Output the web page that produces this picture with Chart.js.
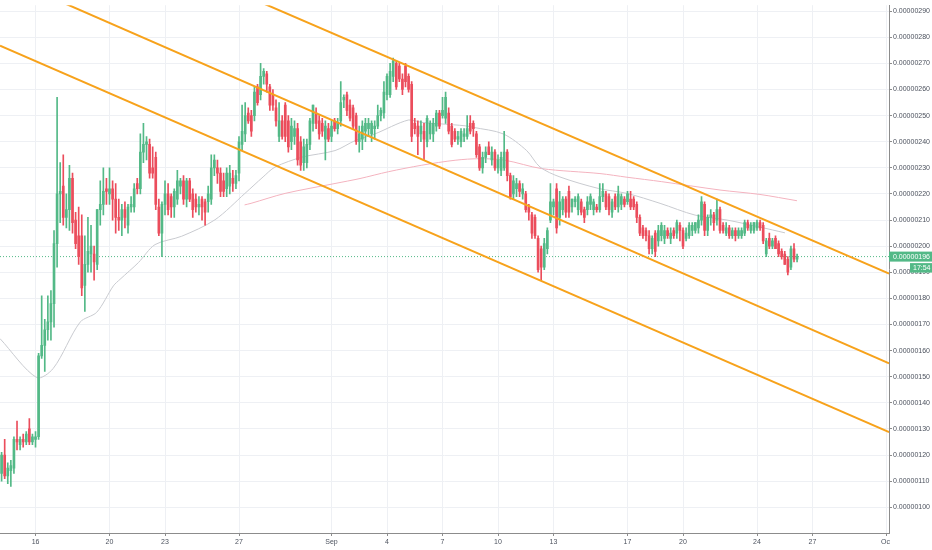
<!DOCTYPE html>
<html>
<head>
<meta charset="utf-8">
<title>4h chart</title>
<script src="https://cdn.jsdelivr.net/npm/chart.js@4.4.0/dist/chart.umd.min.js"></script>
<style>
  html, body { margin: 0; padding: 0; background: #fff; }
  #wrap { position: relative; width: 932px; height: 550px; }
</style>
</head>
<body>
<div id="wrap"><canvas id="chart"></canvas></div>
<script>
// Prices in satoshi (1e-8), one candle every 4 hours from Aug 14 04:00
const open = [
  113,120,112,114,115,126,124,126,125,130,
  125,126,127,158,162,168,171,178,201,220,
  223,211,214,226,210,204,204,185,193,197,
  197,193,214,216,222,220,222,218,211,210,
  214,208,215,215,224,222,236,239,239,230,
  234,215,205,216,220,219,215,218,223,225,
  218,225,220,218,215,218,217,217,218,230,
  230,228,225,222,223,226,224,228,239,243,
  251,250,250,261,258,265,266,261,258,253,
  242,248,254,248,240,242,245,240,232,232,
  239,247,251,248,247,241,245,242,248,245,
  248,256,258,254,253,250,240,241,244,245,
  243,245,246,250,251,258,258,265,270,269,
  264,269,265,262,247,246,243,244,240,243,
  243,246,251,250,249,251,246,244,241,240,
  242,242,247,247,243,238,230,234,238,233,
  236,230,229,230,236,227,220,222,224,220,
  220,215,212,211,203,199,192,199,210,215,
  222,211,214,218,221,215,217,214,217,214,
  214,216,214,215,214,219,220,219,213,219,
  215,216,218,217,218,218,216,211,207,206,
  204,199,205,202,204,203,206,203,206,205,
  208,206,203,204,206,206,207,210,216,206,
  211,212,210,214,208,205,207,204,206,204,
  204,205,209,206,206,207,209,208,197,203,
  200,203,201,198,197,195,192,199,195
];
const high = [
  121,126,117,118,127,133,127,128,129,134,
  128,129,159,181,172,181,183,206,257,232,
  235,220,231,228,213,215,212,204,211,208,
  200,214,225,230,226,230,225,224,218,216,
  217,216,219,224,226,243,247,242,241,238,
  236,218,217,225,224,220,222,229,226,227,
  226,226,222,220,219,219,218,223,235,235,
  233,230,228,230,231,229,229,242,254,255,
  253,252,261,262,270,268,267,262,260,256,
  255,250,255,250,249,248,247,242,241,241,
  249,254,253,250,249,248,247,248,249,249,
  263,258,259,256,254,251,246,248,249,249,
  248,248,254,253,263,266,270,272,271,270,
  266,270,266,263,249,248,248,247,250,248,
  249,252,252,257,259,253,247,245,244,245,
  245,250,250,248,244,239,236,238,240,238,
  237,235,236,244,237,228,227,226,225,224,
  221,216,213,212,204,200,203,207,224,218,
  224,221,219,219,223,218,219,220,218,215,
  219,220,218,216,224,224,221,220,218,220,
  223,220,219,221,221,219,217,212,208,207,
  206,204,206,208,209,208,207,207,207,210,
  209,207,207,209,209,209,212,219,217,212,
  214,213,218,215,209,209,208,207,207,207,
  207,210,210,209,209,210,210,209,203,205,
  203,204,202,199,198,196,200,201,197
];
const low = [
  110,111,109,108,113,122,122,123,124,124,
  124,123,126,157,152,164,164,169,192,209,
  208,207,206,205,199,193,181,175,190,190,
  187,191,208,212,216,216,210,205,206,204,
  207,205,213,213,220,220,232,233,226,226,
  214,204,196,212,212,211,211,216,220,216,
  215,217,211,213,212,210,208,213,216,227,
  224,219,219,219,220,221,222,225,237,240,
  247,242,248,254,256,262,259,252,252,246,
  240,241,240,236,237,239,231,229,229,230,
  237,244,245,241,242,233,240,240,244,243,
  246,253,250,248,245,239,236,237,240,242,
  240,241,245,248,249,256,257,263,260,263,
  258,261,259,240,243,235,240,233,238,241,
  240,244,245,249,247,243,238,240,239,238,
  240,241,243,242,234,229,228,232,235,231,
  229,228,227,229,225,218,218,219,219,218,
  213,210,203,203,190,187,191,197,209,212,
  205,208,212,211,211,213,215,212,212,209,
  212,214,212,213,213,217,214,212,211,214,
  213,214,215,216,214,214,209,204,203,202,
  197,197,196,200,202,201,203,201,203,203,
  202,199,202,203,204,205,205,208,204,204,
  208,206,208,205,205,204,203,203,202,203,
  203,204,206,205,205,206,206,201,196,199,
  199,199,196,195,193,189,191,194,194
];
const close = [
  120,112,115,116,126,125,126,125,128,125,
  127,127,158,162,168,171,178,201,220,221,
  211,214,226,209,201,196,184,193,198,200,
  194,214,216,221,221,222,218,211,210,214,
  211,215,216,222,222,236,239,240,228,228,
  216,205,216,220,214,215,221,225,225,218,
  225,218,214,215,216,215,213,220,230,233,
  228,221,221,228,228,224,227,240,244,250,
  248,244,259,255,265,267,262,254,254,248,
  248,242,242,238,246,245,233,231,238,239,
  248,254,247,243,244,246,241,246,245,247,
  255,257,252,249,246,240,243,246,247,247,
  247,246,250,252,259,265,267,271,261,264,
  260,263,260,242,245,242,246,241,249,247,
  247,251,246,252,257,244,239,241,242,244,
  243,245,244,245,235,230,234,236,235,236,
  230,233,234,236,227,219,225,224,221,222,
  214,213,205,204,191,192,201,206,217,217,
  207,217,218,213,213,218,218,219,213,211,
  217,219,217,214,219,221,215,214,217,215,
  220,219,216,220,215,215,211,205,204,204,
  199,203,198,206,208,206,204,205,204,209,
  206,200,205,208,208,209,210,217,206,211,
  212,209,214,206,206,207,204,206,204,206,
  206,209,207,208,209,209,207,202,202,200,
  202,199,197,196,193,190,199,195,196
];

// time axis in days counted from Aug 1 (Sep 1 = 32)
const firstCandleDay = 14 + 4 / 24;
const candleStep = 4 / 24;
const dayTicks = [16, 20, 23, 27, 32, 35, 38, 41, 44, 48, 51, 55, 58, 62];
const dayLabels = ['16', '20', '23', '27', 'Sep', '4', '7', '10', '13', '17', '20', '24', '27', 'Oct'];
const priceTicks = [100, 110, 120, 130, 140, 150, 160, 170, 180, 190, 200, 210, 220, 230, 240, 250, 260, 270, 280, 290];

// moving averages as [day, price]
const maFast = [
  [14.08,164.6],[16.06,149.7],[16.96,153.2],[18.41,170.9],[19.31,174.7],[20.21,184.8],
  [20.57,187.3],[21.56,193.7],[22.46,200.6],[23.90,203.8],[25.70,210.1],[27.32,220.2],
  [28.30,226.5],[28.95,230.3],[30.41,234.1],[32.19,236.6],[33.27,240.4],[34.35,243.0],
  [36.15,248.3],[36.88,247.4],[37.96,246.8],[39.22,246.1],[39.67,245.5],[41.28,243.0],
  [42.55,236.6],[43.27,230.3],[44.35,226.5],[46.43,222.1],[47.97,220.2],[49.76,216.4],
  [51.65,211.9],[53.38,210.0],[55.16,207.3],[56.51,205.1]
];
const maSlow = [
  [27.30,215.8],[27.65,216.4],[29.49,220.2],[32.19,224.0],[33.54,225.9],[35.07,228.5],
  [36.88,231.0],[38.68,232.9],[40.03,233.5],[41.38,232.9],[43.36,229.7],[46.51,227.8],
  [47.97,226.4],[49.85,224.7],[53.00,221.5],[55.16,219.8],[57.16,217.4]
];

// descending channel drawn on the chart, [day, price] end points
const channelUpper = [[14.08, 336.5], [62.14, 189.5]];
const channelMiddle = [[14.08, 303.8], [62.14, 155.1]];
const channelLower = [[14.08, 276.8], [62.14, 128.8]];

const viewStart = 14.08, viewEnd = 62.135;
const priceMin = 90.15, priceMax = 292.28;
const countdown = '17:54';

const UP = '#53b987';
const DOWN = '#eb4d5c';
const ORANGE = '#f7a21b';
const GRID = '#eef0f4';
const AXIS = '#8c8c8c';
const TEXT = '#4c525e';
const FONT = { family: '"Liberation Sans", Arial, sans-serif', size: 7 };

const lastPrice = close[close.length - 1];
const times = close.map((c, i) => firstCandleDay + i * candleStep);
const candleColors = close.map((c, i) => c >= open[i] ? UP : DOWN);
const toPoints = arr => arr.map(p => ({ x: p[0], y: p[1] }));
const satToText = v => (v / 1e8).toFixed(8);

function trendLine(points, order) {
    return {
        type: 'line', data: toPoints(points), borderColor: ORANGE, borderWidth: 2,
        pointRadius: 0, tension: 0, order: order
    };
}

// price tag, countdown and the clipped corner of the time axis
const overlay = {
    id: 'overlay',
    afterDraw(chart) {
        const ctx = chart.ctx;
        const area = chart.chartArea;
        const y = chart.scales.y.getPixelForValue(lastPrice);
        ctx.save();
        ctx.fillStyle = '#fff';
        ctx.fillRect(area.right + 1, area.bottom + 1, chart.width - area.right, chart.height - area.bottom);
        ctx.fillStyle = UP;
        ctx.fillRect(area.right, y - 5, chart.width - area.right, 10);
        ctx.fillRect(area.right + 21, y + 6.5, chart.width - area.right - 21, 9.5);
        ctx.fillStyle = '#fff';
        ctx.font = FONT.size + 'px ' + FONT.family;
        ctx.textBaseline = 'middle';
        ctx.textAlign = 'left';
        ctx.fillText(satToText(lastPrice), area.right + 4, y + 0.5);
        ctx.fillText(countdown, area.right + 24, y + 11.5);
        ctx.restore();
    }
};

new Chart(document.getElementById('chart'), {
    type: 'bar',
    data: {
        datasets: [
            trendLine(channelUpper, 0),
            trendLine(channelMiddle, 0),
            trendLine(channelLower, 0),
            {
                type: 'bar', label: 'bodies',
                data: times.map((t, i) => ({ x: t, y: [open[i], close[i]] })),
                backgroundColor: candleColors, grouped: false, minBarLength: 1,
                barPercentage: 1, categoryPercentage: 1, maxBarThickness: 2, order: 2
            },
            {
                type: 'bar', label: 'wicks',
                data: times.map((t, i) => ({ x: t, y: [low[i], high[i]] })),
                backgroundColor: candleColors, grouped: false,
                barPercentage: 1, categoryPercentage: 1, maxBarThickness: 1, order: 3
            },
            {
                type: 'line', label: 'last',
                data: [{ x: viewStart, y: lastPrice }, { x: viewEnd, y: lastPrice }],
                borderColor: UP, borderWidth: 1, borderDash: [1, 2], pointRadius: 0, order: 4
            },
            {
                type: 'line', label: 'ma fast', data: toPoints(maFast),
                borderColor: '#c9cbd0', borderWidth: 1, pointRadius: 0, tension: 0.3, order: 5
            },
            {
                type: 'line', label: 'ma slow', data: toPoints(maSlow),
                borderColor: '#f4b3bf', borderWidth: 1, pointRadius: 0, tension: 0.3, order: 6
            }
        ]
    },
    options: {
        responsive: true,
        maintainAspectRatio: false,
        animation: false,
        layout: { padding: 0 },
        plugins: { legend: { display: false }, tooltip: { enabled: false } },
        scales: {
            x: {
                type: 'linear', min: viewStart, max: viewEnd, offset: false,
                grid: { color: GRID, offset: false, tickLength: 3, tickColor: AXIS },
                border: { color: AXIS },
                ticks: {
                    font: FONT, color: TEXT, padding: 2, maxRotation: 0, autoSkip: false,
                    callback: (v, i) => dayLabels[i]
                },
                afterBuildTicks: s => { s.ticks = dayTicks.map(v => ({ value: v })); },
                afterFit: s => { s.height = 17; }
            },
            y: {
                position: 'right', min: priceMin, max: priceMax,
                grid: { color: GRID, tickLength: 3, tickColor: AXIS },
                border: { color: AXIS },
                ticks: { font: FONT, color: TEXT, padding: 1, callback: v => satToText(v) },
                afterBuildTicks: s => { s.ticks = priceTicks.map(v => ({ value: v })); },
                afterFit: s => { s.width = 43; }
            }
        }
    },
    plugins: [overlay]
});
</script>
</body>
</html>
